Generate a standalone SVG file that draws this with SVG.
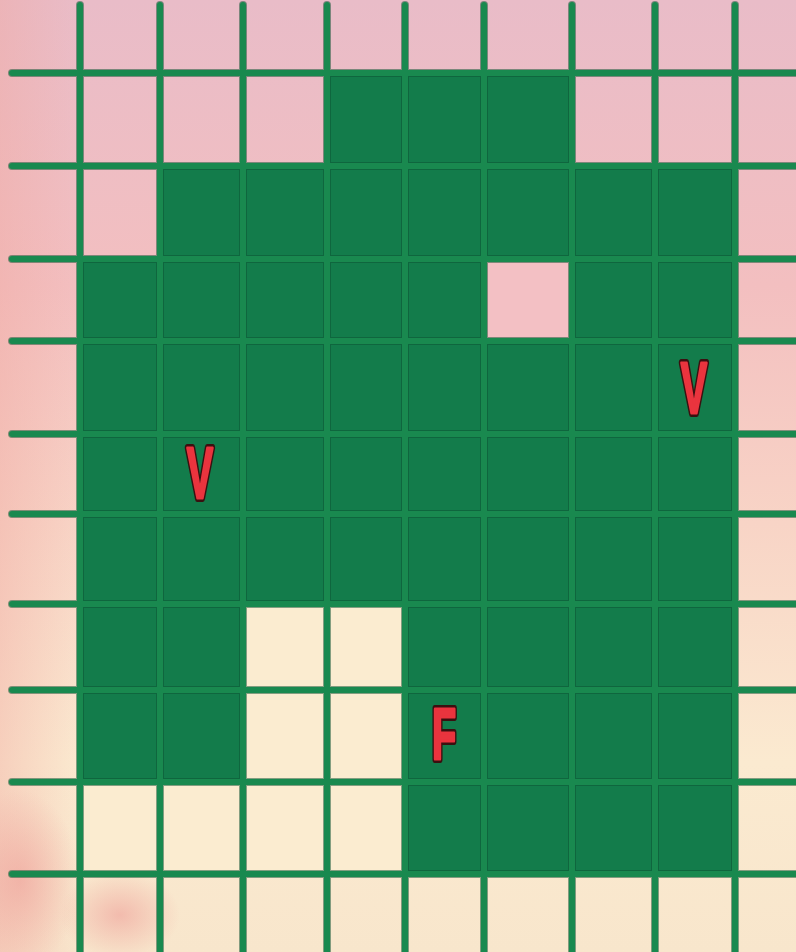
<svg xmlns="http://www.w3.org/2000/svg" width="796" height="952" viewBox="0 0 796 952">
<defs>
<linearGradient id="bg" x1="0" y1="0" x2="0" y2="1">
<stop offset="0" stop-color="#e9bcc8"/>
<stop offset="0.3" stop-color="#f3bfc0"/>
<stop offset="0.55" stop-color="#f8d4c6"/>
<stop offset="0.8" stop-color="#fbead0"/>
<stop offset="1" stop-color="#f8e6cc"/>
</linearGradient>
<linearGradient id="side" x1="0" y1="0" x2="1" y2="0">
<stop offset="0" stop-color="#f0a8a0" stop-opacity="0.4"/>
<stop offset="0.1" stop-color="#f0a8a0" stop-opacity="0"/>
</linearGradient>
<radialGradient id="blot" cx="0.5" cy="0.5" r="0.5">
<stop offset="0" stop-color="#ee9e98" stop-opacity="0.6"/>
<stop offset="1" stop-color="#ee9e98" stop-opacity="0"/>
</radialGradient>
</defs>
<style>
.g{fill:#137c4b;stroke:#0c5a36;stroke-width:1.5}
.c{fill:#fbecd0}
.ln{stroke:#19894f;stroke-width:6;stroke-linecap:round;fill:none}
.ol{stroke:#0d5233;stroke-width:8;stroke-linecap:round;fill:none;opacity:0.5}
.t{font-family:"Liberation Sans","Arial",sans-serif;font-weight:bold;font-size:72px;text-anchor:middle}
.sh{fill:#3a1010;stroke:#3a1010;stroke-width:8;stroke-linejoin:round}
.fg{fill:#ea343e;stroke:#ea343e;stroke-width:3;stroke-linejoin:round}
</style>
<rect width="796" height="952" fill="url(#bg)"/>
<rect width="796" height="952" fill="url(#side)"/>
<ellipse cx="20" cy="880" rx="60" ry="90" fill="url(#blot)"/>
<ellipse cx="120" cy="915" rx="60" ry="45" fill="url(#blot)"/>
<g id="cells">
<rect class="c" x="243" y="604" width="162" height="178"/>
<rect class="c" x="80" y="782" width="325" height="92"/>
<rect class="g" x="327" y="73" width="245" height="93"/>
<rect class="g" x="160" y="166" width="575" height="93"/>
<rect class="g" x="80" y="259" width="655" height="345"/>
<rect class="g" x="80" y="604" width="163" height="178"/>
<rect class="g" x="405" y="604" width="330" height="270"/>
<rect x="484" y="259" width="88" height="82" fill="#f3c0c4"/>
</g>
<g id="grid">
<g class="ol">
<path d="M12 73H796M12 166H796M12 259H796M12 341H796M12 434H796M12 514H796M12 604H796M12 690H796M12 782H796M12 874H796"/>
<path d="M80 5V952M160 5V952M243 5V952M327 5V952M405 5V952M484 5V952M572 5V952M655 5V952M735 5V952"/>
</g>
<g class="ln">
<path d="M12 73H796M12 166H796M12 259H796M12 341H796M12 434H796M12 514H796M12 604H796M12 690H796M12 782H796M12 874H796"/>
<path d="M80 5V952M160 5V952M243 5V952M327 5V952M405 5V952M484 5V952M572 5V952M655 5V952M735 5V952"/>
</g>
</g>
<g id="labels">
<g transform="translate(200 498) scale(0.55 1)"><text class="t sh">V</text><text class="t fg">V</text></g>
<g transform="translate(694 413) scale(0.55 1)"><text class="t sh">V</text><text class="t fg">V</text></g>
<g transform="translate(444 759) scale(0.55 1)"><text class="t sh">F</text><text class="t fg">F</text></g>
</g>
</svg>
